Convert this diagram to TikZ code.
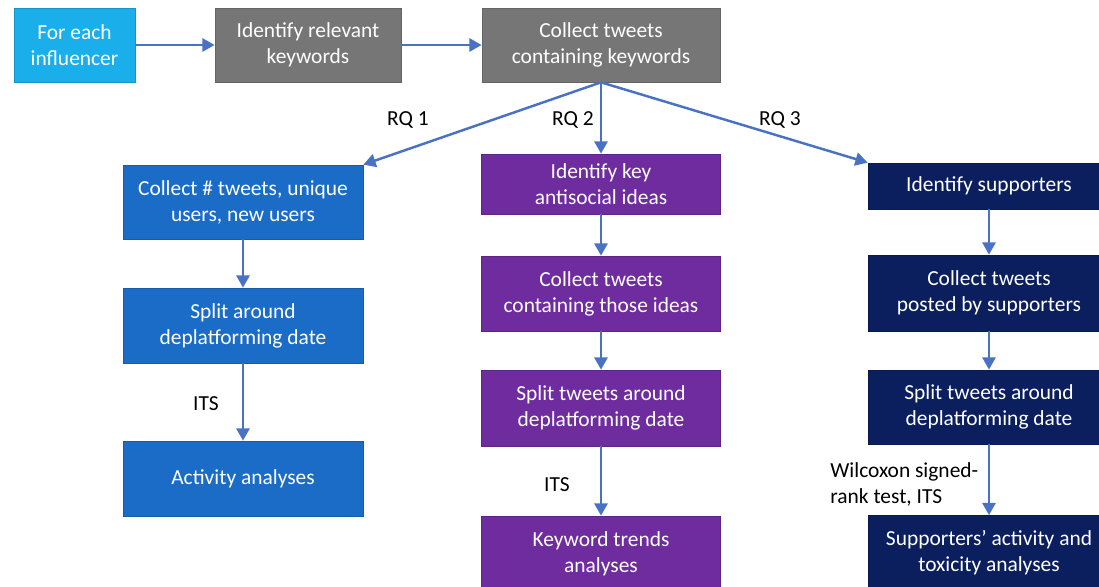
\documentclass[tikz,border=0pt]{standalone}
\usepackage{fontspec}
\setmainfont{Carlito}
\usetikzlibrary{arrows.meta}
\definecolor{skyblue}{HTML}{1AAFEA}
\definecolor{keygray}{HTML}{767676}
\definecolor{rqblue}{HTML}{1A6CC6}
\definecolor{rqpurple}{HTML}{6F2C9F}
\definecolor{rqnavy}{HTML}{0B1F5E}
\definecolor{arrowblue}{HTML}{4A72C4}

\begin{document}
\begin{tikzpicture}[x=0.02cm,y=-0.02cm,
	box/.style={draw=#1!85!black, fill=#1, line width=0.4pt, text=white,
		align=center, inner sep=0pt, minimum width=4.8cm,
		font=\fontsize{12.2}{14.8}\selectfont},
	flow/.style={draw=arrowblue, line width=1.4pt, -{Triangle[length=7pt,width=7.5pt]}},
	lbl/.style={inner sep=0pt, font=\fontsize{12.2}{14.8}\selectfont}]
	\useasboundingbox (0,0) rectangle (1099,587);
	\clip (0,0) rectangle (1099,587);
	% top row
	\node[box=skyblue, minimum width=2.42cm, minimum height=1.48cm] (infl) at (74.5,45) {For each\\influencer};
	\node[box=keygray, minimum width=3.72cm, minimum height=1.48cm] (kw) at (308,45) {Identify relevant\\keywords};
	\node[box=keygray, minimum width=4.76cm, minimum height=1.48cm] (coll) at (601,45) {Collect tweets\\containing keywords};
	% RQ 1
	\node[box=rqblue, minimum height=1.48cm] (act1) at (243,202) {Collect \# tweets, unique\\users, new users};
	\node[box=rqblue, minimum height=1.5cm] (act2) at (243,325.5) {Split around\\deplatforming date};
	\node[box=rqblue, minimum height=1.5cm] (act3) at (243,478.5) {Activity analyses};
	% RQ 2
	\node[box=rqpurple, minimum width=4.78cm, minimum height=1.2cm] (idea1) at (601,184) {Identify key\\antisocial ideas};
	\node[box=rqpurple, minimum width=4.78cm, minimum height=1.5cm] (idea2) at (601,293.5) {Collect tweets\\containing those ideas};
	\node[box=rqpurple, minimum width=4.78cm, minimum height=1.52cm] (idea3) at (601,408) {Split tweets around\\deplatforming date};
	\node[box=rqpurple, minimum width=4.78cm, minimum height=1.5cm] (idea4) at (601,553.5) {Keyword trends\\analyses};
	% RQ 3
	\node[box=rqnavy, minimum width=4.84cm, minimum height=0.92cm] (sup1) at (989,186) {Identify supporters};
	\node[box=rqnavy, minimum width=4.84cm, minimum height=1.52cm] (sup2) at (989,293) {Collect tweets\\posted by supporters};
	\node[box=rqnavy, minimum width=4.84cm, minimum height=1.48cm] (sup3) at (989,407) {Split tweets around\\deplatforming date};
	\node[box=rqnavy, minimum width=4.84cm, minimum height=1.5cm] (sup4) at (989,553) {Supporters' activity and\\toxicity analyses};
	% labels
	\node[lbl] (rq1) at (408,120) {RQ 1};
	\node[lbl] (rq2) at (573,120) {RQ 2};
	\node[lbl] (rq3) at (780,120) {RQ 3};
	\node[lbl] (its1) at (206,404) {ITS};
	\node[lbl] (its2) at (557,485) {ITS};
	\node[lbl, anchor=west, align=left] (wil) at (830,484) {Wilcoxon signed-\\rank test, ITS};
	% connectors
	\draw[flow] (infl.east) -- (kw.west);
	\draw[flow] (kw.east) -- (coll.west);
	\draw[flow] (coll.south) -- (act1.north east);
	\draw[flow] (coll.south) -- (idea1.north);
	\draw[flow] (coll.south) -- (sup1.north west);
	\draw[flow] (act1.south) -- (act2.north);
	\draw[flow] (act2.south) -- (act3.north);
	\draw[flow] (idea1.south) -- (idea2.north);
	\draw[flow] (idea2.south) -- (idea3.north);
	\draw[flow] (idea3.south) -- (idea4.north);
	\draw[flow] (sup1.south) -- (sup2.north);
	\draw[flow] (sup2.south) -- (sup3.north);
	\draw[flow] (sup3.south) -- (sup4.north);
\end{tikzpicture}
\end{document}
